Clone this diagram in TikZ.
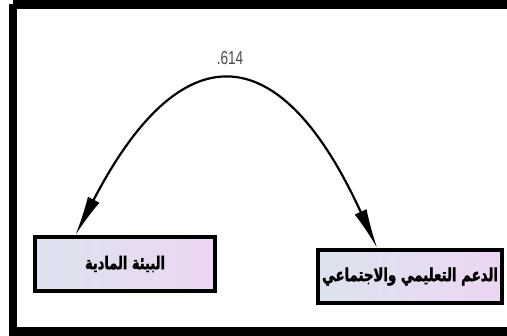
\documentclass[tikz,border=0pt]{standalone}
\usepackage{fontspec}
\setmainfont{Liberation Sans}
\newfontfamily\arabicheavy[Script=Arabic,FakeBold=2.2]{DejaVu Sans Bold}
\TeXXeTstate=1
\usetikzlibrary{arrows.meta,calc}
\definecolor{boxblue}{HTML}{DCE3EE}
\definecolor{boxpink}{HTML}{EDD6F2}
\definecolor{coefgray}{HTML}{4A4A4A}
\tikzset{
  varbox/.style={draw=black, line width=3.4pt, inner sep=0pt,
    left color=boxblue, right color=boxpink, minimum height=#1},
  corrarrow/.style={line width=2.2pt,
    {Latex[length=40pt,width=13pt]}-{Latex[length=40pt,width=13pt]}},
  arlabel/.style={font=\arabicheavy\fontsize{#1}{15}\selectfont,
    inner sep=0pt, yscale=1.35},
  arlabel/.default=13
}
\begin{document}
\begin{tikzpicture}[x=1pt,y=1pt]
  \clip (0,0) rectangle (507,336);
  \fill[white] (0,0) rectangle (507,336);
  % outer frame
  \draw[line width=8.5pt] (13,331.5) -- (520,331.5);
  \draw[line width=8.5pt] (13,331.5) -- (13,4.5) -- (520,4.5);
  % variables
  \node[varbox=54pt, minimum width=180pt] (L) at (125,72) {};
  \node[arlabel=13] (Lt) at (L) {\beginR البيئة المادية\endR};
  \node[varbox=53pt, minimum width=184pt] (R) at (410,59.5) {};
  \node[arlabel=13.3] (Rt) at (R) {\beginR الدعم التعليمي والاجتماعي\endR};
  % endpoints of the correlation arc on the box tops
  \coordinate (la) at ($(L.north west)+(42,0)$);
  \coordinate (ra) at ($(R.north west)+(61,0)$);
  \draw[corrarrow] (la) .. controls (180,303) and (279,303) .. (ra);
  \node[text=coefgray, inner sep=0pt, font=\fontsize{17}{19}\selectfont, xscale=0.8, yscale=1.1] (c) at (230,278) {.614};
\end{tikzpicture}
\end{document}
